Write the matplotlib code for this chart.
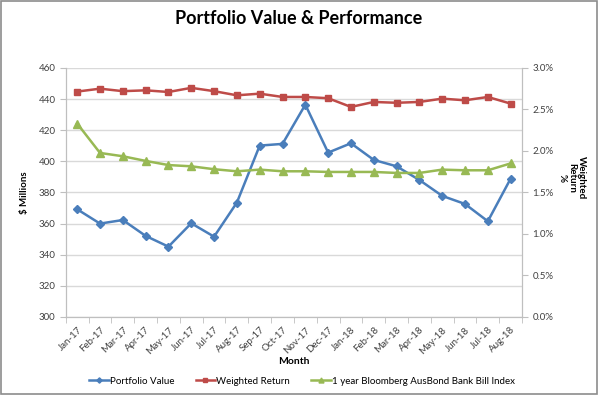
import matplotlib.pyplot as plt
from matplotlib.patches import Rectangle

plt.rcParams['font.family'] = ['Lato', 'DejaVu Sans']

months = ["Jan-17", "Feb-17", "Mar-17", "Apr-17", "May-17", "Jun-17", "Jul-17",
          "Aug-17", "Sep-17", "Oct-17", "Nov-17", "Dec-17", "Jan-18", "Feb-18",
          "Mar-18", "Apr-18", "May-18", "Jun-18", "Jul-18", "Aug-18"]
portfolio = [369.2, 360.0, 362.3, 352.1, 345.2, 360.2, 351.6, 373.5, 410.1, 411.2,
             436.4, 405.6, 411.6, 400.9, 396.8, 388.0, 377.8, 372.6, 361.5, 388.9]
weighted_return = [2.715, 2.75, 2.72, 2.73, 2.71, 2.76, 2.72, 2.67, 2.69, 2.65,
                   2.65, 2.635, 2.53, 2.59, 2.58, 2.59, 2.63, 2.61, 2.65, 2.57]
bill_index = [2.33, 1.976, 1.936, 1.88, 1.83, 1.815, 1.78, 1.755, 1.775, 1.755,
              1.755, 1.747, 1.747, 1.747, 1.735, 1.735, 1.775, 1.767, 1.767, 1.85]

blue, red, green = '#4A7EBB', '#BE4B48', '#98B954'
grey = '#BFBFBF'

fig = plt.figure(figsize=(5.98, 3.96), dpi=100)
fig.patches.append(Rectangle((0.001, 0.004), 0.997, 0.994, transform=fig.transFigure,
                             fill=False, edgecolor='#8C8C8C', lw=1.2))
ax = fig.add_axes([0.110, 0.1995, 0.763, 0.629])
ax2 = ax.twinx()

x = range(len(months))
l1, = ax.plot(x, portfolio, color=blue, marker='D', ms=4.5, lw=1.8, label='Portfolio Value')
l2, = ax2.plot(x, weighted_return, color=red, marker='s', ms=5, lw=1.8, label='Weighted Return')
l3, = ax2.plot(x, bill_index, color=green, marker='^', ms=6, lw=1.8,
               label='1 year Bloomberg AusBond Bank Bill Index')

ax.set_ylim(300, 460)
ax.set_yticks(range(300, 461, 20))
ax2.set_ylim(0, 3.0)
ax2.set_yticks([0, 0.5, 1.0, 1.5, 2.0, 2.5, 3.0])
ax2.set_yticklabels(['%.1f%%' % v for v in [0, 0.5, 1.0, 1.5, 2.0, 2.5, 3.0]])

ax.set_xlim(-0.5, len(months) - 0.5)
ax.set_xticks(list(x))
ax.set_xticklabels(months, rotation=45, ha='right', rotation_mode='anchor', fontsize=7)
ax.set_xticks([i - 0.5 for i in range(len(months) + 1)], minor=True)
ax.tick_params(axis='x', which='major', length=0, pad=6)
ax.tick_params(axis='x', which='minor', length=4, color=grey)

ax.grid(axis='y', color='#D9D9D9', lw=1)
ax.set_axisbelow(True)
for a in (ax, ax2):
    a.spines['top'].set_visible(False)
    for s in ('left', 'right', 'bottom'):
        a.spines[s].set_color(grey)
ax.tick_params(axis='y', labelsize=7, color=grey, length=4, labelcolor='#404040')
ax2.tick_params(axis='y', labelsize=7, color=grey, length=4, labelcolor='#404040')
ax.tick_params(axis='x', labelcolor='#404040')

ax.set_ylabel('$ Millions', fontsize=7, fontweight='bold', labelpad=7)
ax2.set_ylabel('Weighted\nReturn\n%', fontsize=7, fontweight='bold', rotation=-90,
               linespacing=1.1, va='center', ha='center')
ax2.yaxis.set_label_coords(1.108, 0.56)
ax.set_xlabel('Month', fontsize=7.5, fontweight='bold', labelpad=1)

fig.suptitle('Portfolio Value & Performance', fontsize=13, fontweight='bold', y=0.975)

fig.legend(handles=[l1, l2, l3], loc='center', bbox_to_anchor=(0.505, 0.037), ncol=3,
           frameon=False, fontsize=7, handlelength=2.0, columnspacing=2.2,
           handletextpad=0.1, markerscale=0.6)

fig.savefig('out.png', dpi=100)
